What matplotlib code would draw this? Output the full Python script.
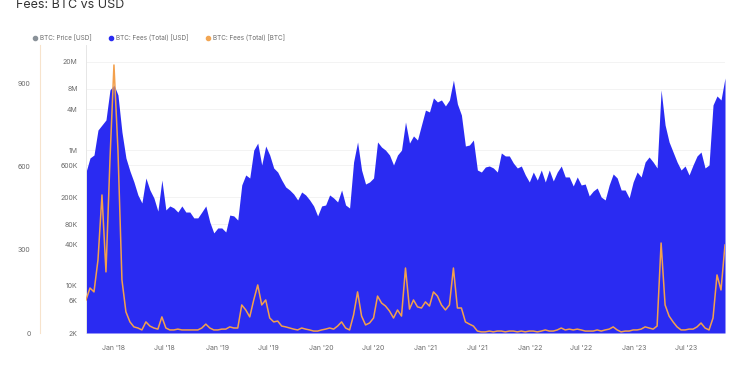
import pandas as pd
import matplotlib
matplotlib.use("Agg")
import matplotlib.pyplot as plt
import matplotlib.dates as mdates
from matplotlib.lines import Line2D

# --- data (one point every 14 days) ---
start_date = "2017-09-28"
step_days = 14

# BTC: Fees (Total) [USD], in thousands of USD
fees_usd_k = [
    475, 766, 847, 1980, 2350, 2790, 7730, 9160, 6520, 1850,
    766, 492, 339, 218, 166, 388, 258, 197, 126, 362,
    131, 150, 140, 122, 150, 122, 122, 100, 100, 122,
    150, 87, 60, 71, 71, 62, 110, 107, 93, 306,
    430, 388, 1000, 1270, 604, 1150, 847, 545, 475, 362,
    286, 258, 225, 184, 241, 218, 184, 150, 107, 150,
    155, 218, 197, 172, 258, 155, 140, 668, 1320, 509,
    316, 339, 388, 1320, 1110, 1000, 847, 604, 847, 1000,
    2600, 1270, 1620, 1410, 2350, 3900, 3660, 5900, 5140, 5500,
    4490, 5500, 10800, 4800, 3300, 1150, 1190, 1410, 509, 475,
    564, 583, 545, 475, 908, 820, 820, 646, 545, 583,
    430, 339, 475, 362, 509, 339, 509, 351, 475, 583,
    402, 402, 296, 402, 306, 316, 211, 249, 276, 203,
    184, 306, 445, 388, 258, 258, 197, 339, 475, 402,
    668, 792, 668, 545, 7730, 2350, 1320, 938, 668, 509,
    583, 430, 604, 820, 938, 545, 604, 4640, 6300, 5500,
    11600,
]

# BTC: Fees (Total) [BTC]
fees_btc = [
    119, 162, 148, 263, 497, 220, 623, 965, 659, 191,
    76, 40, 22, 18, 11, 40, 25, 18, 14, 58,
    18, 11, 11, 14, 11, 11, 11, 11, 11, 18,
    32, 18, 11, 11, 14, 14, 22, 18, 18, 101,
    83, 58, 119, 173, 101, 119, 54, 40, 43, 25,
    22, 18, 14, 11, 18, 14, 11, 7, 7, 11,
    14, 18, 14, 25, 40, 18, 11, 65, 148, 61,
    29, 36, 54, 133, 108, 97, 79, 54, 83, 61,
    234, 86, 119, 94, 90, 112, 97, 148, 133, 101,
    83, 101, 234, 90, 90, 40, 32, 25, 7, 4,
    4, 7, 4, 7, 7, 4, 7, 7, 4, 7,
    4, 7, 7, 4, 7, 11, 7, 7, 11, 18,
    11, 14, 11, 14, 11, 7, 7, 7, 11, 7,
    11, 14, 22, 11, 4, 7, 7, 11, 11, 14,
    22, 18, 14, 25, 324, 101, 61, 40, 22, 11,
    11, 14, 14, 22, 36, 18, 11, 54, 209, 155,
    317,
]

usd_ticks = [2e3, 6e3, 1e4, 4e4, 8e4, 2e5, 6e5, 1e6, 4e6, 8e6, 2e7]
usd_tick_labels = ["2K", "6K", "10K", "40K", "80K", "200K", "600K", "1M", "4M", "8M", "20M"]
btc_ticks = [0, 300, 600, 900]

legend_labels = ["BTC: Price [USD]", "BTC: Fees (Total) [USD]", "BTC: Fees (Total) [BTC]"]

dates = pd.date_range(start_date, periods=len(fees_usd_k), freq=f"{step_days}D")
usd = [v * 1000 for v in fees_usd_k]

BLUE = "#2a2bf2"
ORANGE = "#f3a04c"
GREY_TXT = "#6b6b6b"

plt.rcParams["font.family"] = ["Inter", "DejaVu Sans"]

fig = plt.figure(figsize=(7.5, 3.75), dpi=100)
W, H = 750, 375
ax = fig.add_axes([86 / W, 1 - 333 / H, (725 - 86) / W, (333 - 45) / H])

# USD fees, log scale area
ax.fill_between(dates, 2000, usd, color=BLUE, lw=0, zorder=2)
ax.set_yscale("log")
ax.set_ylim(2000, 3.56e7)
ax.set_xlim(dates[0], dates[-1])
ax.set_yticks(usd_ticks)
ax.set_yticklabels(usd_tick_labels)
ax.yaxis.set_minor_locator(plt.NullLocator())
ax.grid(axis="y", color="#f1f1f1", lw=0.6, zorder=0)
ax.tick_params(axis="y", length=0, pad=6, labelsize=5, labelcolor=GREY_TXT)
ax.tick_params(axis="x", length=0, pad=9, labelsize=5, labelcolor=GREY_TXT)
ax.xaxis.set_major_locator(mdates.MonthLocator(bymonth=[1, 7]))
ax.xaxis.set_major_formatter(mdates.DateFormatter("%b '%y"))
for s in ["top", "right", "bottom"]:
    ax.spines[s].set_visible(False)
ax.spines["left"].set_color("#e6e6e6")
ax.spines["left"].set_linewidth(0.7)

# BTC fees, linear scale, axis on the far left
ax2 = ax.twinx()
ax2.plot(dates, fees_btc, color=ORANGE, lw=1.1, zorder=3)
ax2.set_ylim(0, 1037)
ax2.set_yticks(btc_ticks)
ax2.yaxis.set_ticks_position("left")
ax2.yaxis.set_label_position("left")
ax2.spines["left"].set_position(("outward", 33))
ax2.spines["left"].set_color("#f7e3cc")
ax2.spines["left"].set_linewidth(0.8)
for s in ["top", "right", "bottom"]:
    ax2.spines[s].set_visible(False)
ax2.tick_params(axis="y", length=0, pad=7, labelsize=5, labelcolor=GREY_TXT)

# title (top clipped in the original)
fig.text(16 / W, 1 - 8 / H, "Fees: BTC vs USD", fontsize=9, color="#333333",
         ha="left", va="baseline")

# legend row
leg_colors = ["#8a9299", BLUE, "#f2a654"]
leg_x = [35, 111, 208]
for x, c, lab in zip(leg_x, leg_colors, legend_labels):
    fig.add_artist(Line2D([x / W], [1 - 38 / H], marker="o", ms=3, color=c,
                          transform=fig.transFigure, lw=0))
    fig.text((x + 5) / W, 1 - 38 / H, lab, fontsize=4.6, color=GREY_TXT,
             ha="left", va="center")

fig.savefig("out.png", dpi=100)
